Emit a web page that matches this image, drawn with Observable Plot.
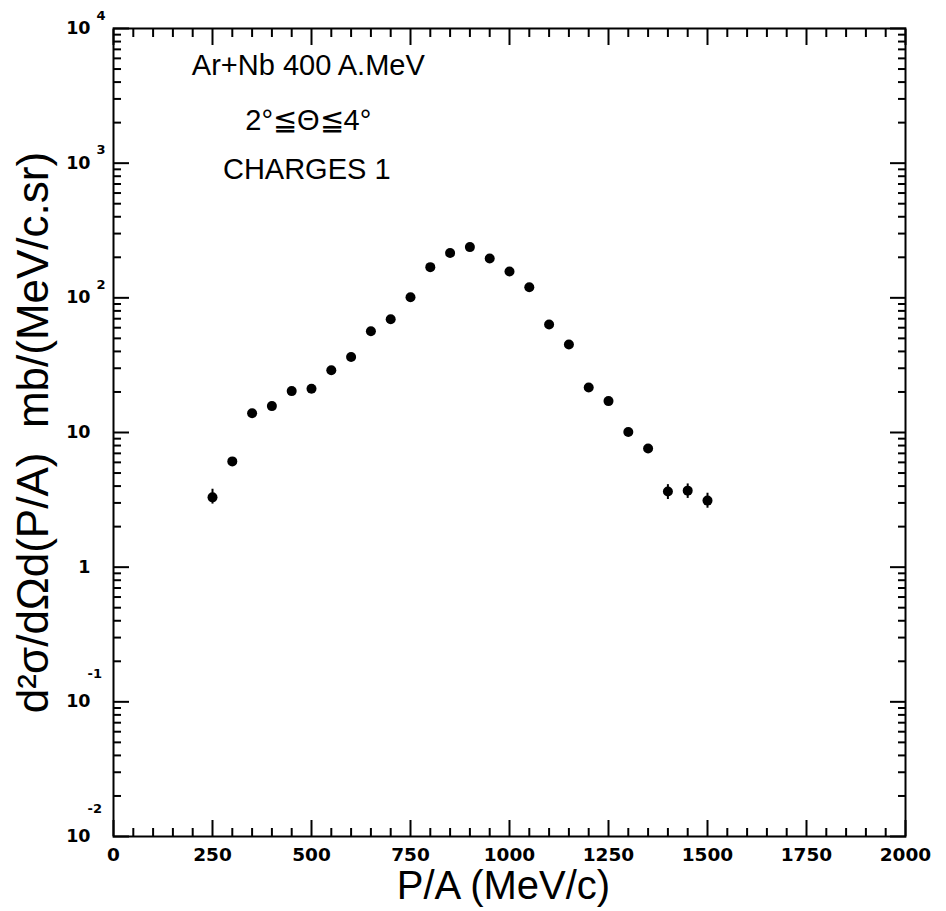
<!DOCTYPE html>
<html><head><meta charset="utf-8">
<script src="https://cdn.jsdelivr.net/npm/d3@7"></script>
<script src="https://cdn.jsdelivr.net/npm/@observablehq/plot@0.6"></script>
<style>body{margin:0;background:#fff}</style>
</head><body><div id="chart"></div>
<script>
// Data
const momentum = [250,300,350,400,450,500,550,600,650,700,750,800,850,900,950,1000,1050,1100,1150,1200,1250,1300,1350,1400,1450,1500];
const crossSection = [3.3,6.1,13.9,15.7,20.3,21.1,29,36.4,56.5,69.4,101,169,215,238,196,157,120,63.4,45,21.6,17.1,10.1,7.6,3.65,3.7,3.12];
const errMomentum = [250,1400,1450,1500];
const errLow = [2.94,3.18,3.24,2.74];
const errHigh = [3.79,4.1,4.15,3.54];

// Axis ticks and labels
const xMajor = [0,250,500,750,1000,1250,1500,1750,2000];
const xMinor = d3.range(0,2001,50).filter(v => v % 250 !== 0);
const yMajor = [1e-2,1e-1,1,10,100,1000,1e4];
const yMinor = [-2,-1,0,1,2,3].flatMap(e => [2,3,4,5,6,7,8,9].map(k => k*Math.pow(10,e)));
const yLabelBase = ["10","10","1","10","10","10","10"];
const yLabelExp  = ["-2","-1","","","2","3","4"];

// Annotations
const noteText = ["Ar+Nb 400 A.MeV","2°≦Θ≦4°","CHARGES 1"];
const noteX = [492,492,488];
const noteY = [5300,2080,901];

const xTitle = "P/A (MeV/c)";
const yTitle = "d²σ/dΩd(P/A)  mb/(MeV/c.sr)";

const points = momentum.map((p,i) => ({p, v: crossSection[i]}));
const errs = errMomentum.map((p,i) => ({p, lo: errLow[i], hi: errHigh[i]}));
const notes = noteText.map((t,i) => ({t, x: noteX[i], y: noteY[i]}));
const yLab = yMajor.map((v,i) => ({v, base: yLabelBase[i], exp: yLabelExp[i]}));

const tickStyle = {fill: "none", strokeWidth: 2, label: null};
const labFont = {fontFamily: "DejaVu Sans", fontWeight: "bold"};

const chart = Plot.plot({
  width: 946, height: 911,
  marginLeft: 113, marginRight: 41, marginTop: 28, marginBottom: 75,
  style: {background: "#fff", color: "#000", overflow: "visible"},
  x: {domain: [0,2000], label: null},
  y: {type: "log", domain: [1e-2,1e4], label: null},
  marks: [
    Plot.axisX(xMajor, {anchor: "bottom", tickSize: -16, ...tickStyle}),
    Plot.axisX(xMinor, {anchor: "bottom", tickSize: -8, ...tickStyle}),
    Plot.axisX(xMajor, {anchor: "top", tickSize: -16, ...tickStyle}),
    Plot.axisX(xMinor, {anchor: "top", tickSize: -8, ...tickStyle}),
    Plot.axisY(yMajor, {anchor: "left", tickSize: -16, ...tickStyle}),
    Plot.axisY(yMinor, {anchor: "left", tickSize: -8, ...tickStyle}),
    Plot.axisY(yMajor, {anchor: "right", tickSize: -16, ...tickStyle}),
    Plot.axisY(yMinor, {anchor: "right", tickSize: -8, ...tickStyle}),
    Plot.axisX(xMajor, {anchor: "bottom", tickSize: 0, tickPadding: 11, fontSize: 18.5, ...labFont, label: null, tickFormat: d => String(d)}),
    Plot.text(yLab, {y: "v", text: "base", frameAnchor: "left", dx: -23, textAnchor: "end", lineAnchor: "middle", fontSize: 17.5, ...labFont}),
    Plot.text(yLab.filter(d => d.exp && d.exp[0] !== "-"), {y: "v", text: "exp", frameAnchor: "left", dx: -17, dy: -13, textAnchor: "start", lineAnchor: "middle", fontSize: 13, ...labFont}),
    Plot.text(yLab.filter(d => d.exp && d.exp[0] === "-"), {y: "v", text: "exp", frameAnchor: "left", dx: -26, dy: -28, textAnchor: "start", lineAnchor: "middle", fontSize: 13, ...labFont}),
    Plot.frame({strokeWidth: 2}),
    Plot.ruleX(errs, {x: "p", y1: "lo", y2: "hi", strokeWidth: 2}),
    Plot.dot(points, {x: "p", y: "v", r: 5, fill: "#000", stroke: "none"}),
    Plot.text(notes, {x: "x", y: "y", text: "t", fontSize: 29, fontFamily: "Liberation Sans"}),
    Plot.text([xTitle], {text: d => d, frameAnchor: "bottom", dy: 50, dx: -6, textAnchor: "middle", lineAnchor: "middle", fontSize: 40, fontFamily: "Liberation Sans"}),
    Plot.text([yTitle], {text: d => d, frameAnchor: "left", dx: -80, rotate: -90, textAnchor: "middle", lineAnchor: "middle", fontSize: 44, fontFamily: "Liberation Sans"})
  ]
});
document.getElementById("chart").append(chart);
</script>
</body></html>
